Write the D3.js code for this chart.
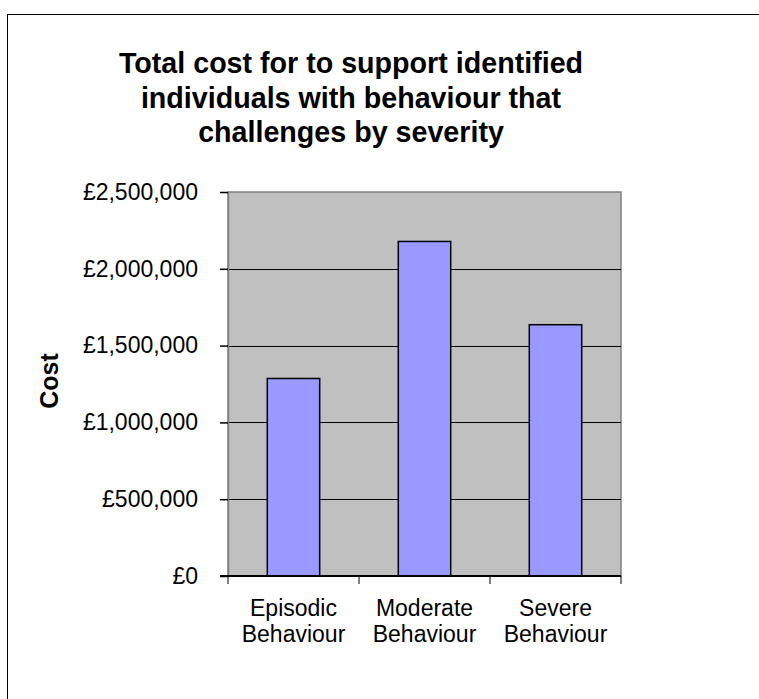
<!DOCTYPE html>
<html>
<head>
<meta charset="utf-8">
<script src="https://cdn.jsdelivr.net/npm/d3@7"></script>
<style>
  body { margin: 0; background: #fff; }
  text { font-family: "Liberation Sans", Arial, sans-serif; fill: #000; }
</style>
</head>
<body>
<div id="root"></div>
<script>
const categories = [["Episodic", "Behaviour"], ["Moderate", "Behaviour"], ["Severe", "Behaviour"]];
const costs = [1286000, 2178000, 1636000];
const yTicks = [0, 500000, 1000000, 1500000, 2000000, 2500000];
const titleLines = ["Total cost for to support identified", "individuals with behaviour that", "challenges by severity"];

const outerWidth = 759;
const outerHeight = 699;
const plot = { left: 228, right: 621, top: 192, bottom: 576 };

let svg = d3.select("#root")
            .append("svg")
            .attr("width", outerWidth)
            .attr("height", outerHeight);

// outer chart frame, runs off the right and bottom edges
svg.append("rect")
    .attr("x", 7.5).attr("y", 14.5)
    .attr("width", 800).attr("height", 800)
    .attr("fill", "#fff")
    .attr("stroke", "#000");

let scaleX = d3.scaleBand()
                .domain(d3.range(categories.length))
                .range([plot.left, plot.right])
                .paddingInner(0.6)
                .paddingOuter(0.3);
let scaleY = d3.scaleLinear().domain([0, 2500000]).range([plot.bottom, plot.top]);

// plot background
svg.append("rect")
    .attr("x", plot.left).attr("y", plot.top)
    .attr("width", plot.right - plot.left).attr("height", plot.bottom - plot.top)
    .attr("fill", "#c0c0c0")
    .attr("stroke", "#808080")
    .attr("stroke-width", 1.5);

// gridlines
svg.append("g")
    .selectAll("line")
    .data(yTicks.slice(1, -1))
    .enter().append("line")
      .attr("x1", plot.left).attr("x2", plot.right)
      .attr("y1", d => Math.round(scaleY(d)) + 0.5)
      .attr("y2", d => Math.round(scaleY(d)) + 0.5)
      .attr("stroke", "#000");

// bars
svg.append("g")
    .selectAll("rect")
    .data(costs)
    .enter().append("rect")
      .attr("x", (d, i) => scaleX(i))
      .attr("y", d => scaleY(d))
      .attr("width", scaleX.bandwidth())
      .attr("height", d => plot.bottom - scaleY(d))
      .attr("fill", "#9999ff")
      .attr("stroke", "#000")
      .attr("stroke-width", 1.5);

// y axis
let yAxis = d3.axisLeft(scaleY)
              .tickValues(yTicks)
              .tickSizeInner(8)
              .tickSizeOuter(0)
              .tickPadding(22)
              .tickFormat(d => "£" + d3.format(",")(d));

let yG = svg.append("g")
    .attr("transform", `translate(${plot.left}, 0)`)
    .call(yAxis);
yG.select(".domain").attr("stroke", "#808080").attr("stroke-width", 1.5);
yG.selectAll(".tick line").attr("stroke", "#000").attr("stroke-width", 1.5);
yG.selectAll("text")
    .style("font-size", "23px")
    .attr("fill", "#000");

// x axis line and category ticks
let step = scaleX.step();
let x0 = plot.left;
svg.append("line")
    .attr("x1", plot.left - 8).attr("x2", plot.right)
    .attr("y1", plot.bottom).attr("y2", plot.bottom)
    .attr("stroke", "#000").attr("stroke-width", 2);
svg.append("g")
    .selectAll("line")
    .data(d3.range(categories.length + 1))
    .enter().append("line")
      .attr("x1", i => x0 + i * step).attr("x2", i => x0 + i * step)
      .attr("y1", plot.bottom).attr("y2", plot.bottom + 8)
      .attr("stroke", "#000");

let xLabels = svg.append("g")
    .selectAll("text")
    .data(categories)
    .enter().append("text")
      .attr("text-anchor", "middle")
      .style("font-size", "23px")
      .attr("transform", (d, i) => `translate(${scaleX(i) + scaleX.bandwidth() / 2}, 616)`);
xLabels.selectAll("tspan")
    .data(d => d)
    .enter().append("tspan")
      .attr("x", 0)
      .attr("dy", (d, i) => i == 0 ? 0 : 26)
      .text(d => d);

// y title
svg.append("text")
    .attr("transform", `translate(58, ${(plot.top + plot.bottom) / 2 - 3}) rotate(-90)`)
    .attr("text-anchor", "middle")
    .style("font-size", "25px")
    .style("font-weight", "bold")
    .text("Cost");

// chart title
svg.append("g")
    .selectAll("text")
    .data(titleLines)
    .enter().append("text")
      .attr("transform", (d, i) => `translate(351, ${73 + i * 34.5}) scale(0.955, 1)`)
      .attr("text-anchor", "middle")
      .style("font-size", "30px")
      .style("font-weight", "bold")
      .text(d => d);
</script>
</body>
</html>
